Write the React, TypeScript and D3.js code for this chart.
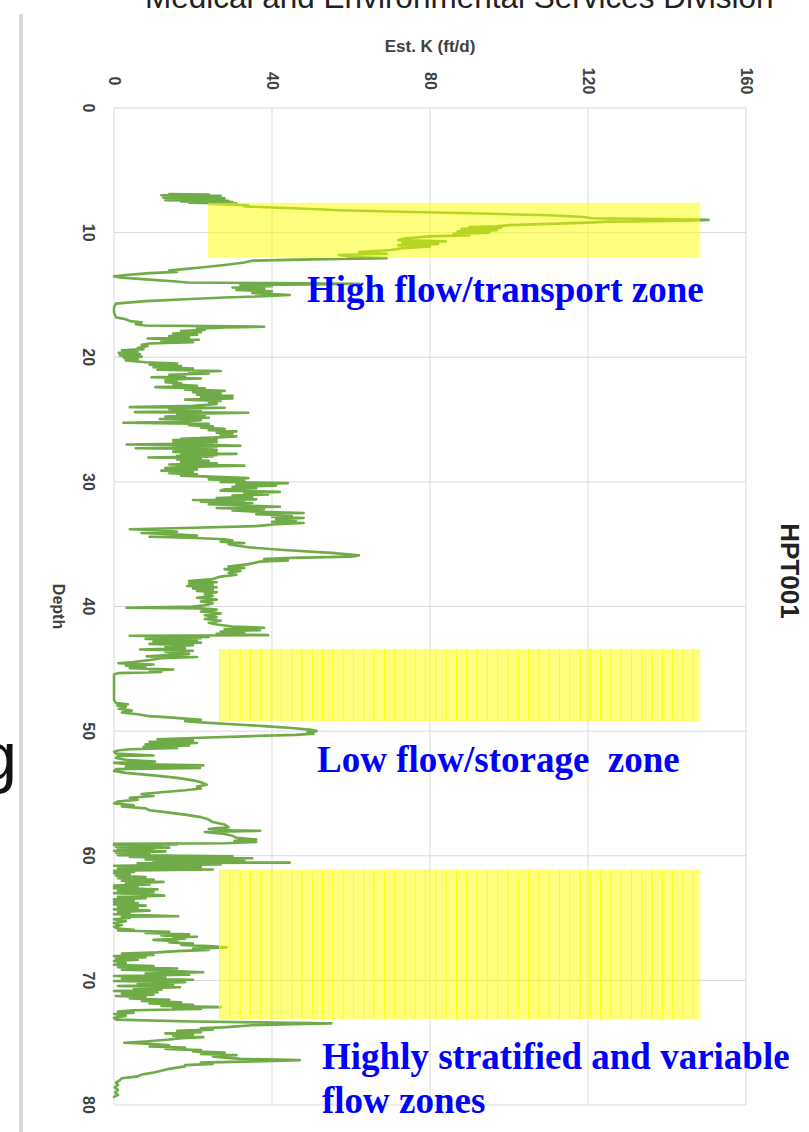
import React from 'react';
import * as d3 from 'd3';

// ---------- data ----------
const kTicks = [0, 40, 80, 120, 160];
const depthTicks = [0, 10, 20, 30, 40, 50, 60, 70, 80];
const kDomain: [number, number] = [0, 160];
const depthDomain: [number, number] = [0, 80];

// [depth (ft), Est. K (ft/d)]
const profileTop: [number, number][] = [
  [6.9,14],[6.95,24],[7.0,12],[7.05,27],[7.1,14],[7.15,22],[7.2,12.5],[7.25,28],[7.3,15],[7.35,25],[7.4,13],[7.45,29],[7.5,17],[7.55,30],[7.6,19],[7.65,31],[7.7,24],[7.8,34],[7.9,33],[8.0,42],[8.1,50],[8.2,57],[8.3,70],[8.45,90],[8.6,110],[8.75,119],[8.85,121],[8.92,138],[8.98,150.5],[9.05,145],[9.12,125],[9.2,120],[9.3,110],[9.4,100],[9.5,97],[9.55,90],[9.6,98],[9.7,88],[9.8,97],[9.9,87],[10.0,95],[10.1,86],[10.2,90],[10.3,80],[10.45,74],[10.6,72],[10.7,84],[10.8,73],[10.9,82],[11.0,72],[11.1,80],[11.25,73],[11.4,70],[11.55,62],[11.7,69],[11.8,57],[11.95,60],[12.05,69],[12.15,50],[12.25,35],[12.4,33],[12.6,28],[12.8,22],[12.95,17],[13.05,14],[13.15,16],[13.25,9],[13.4,3],[13.5,0],[13.6,1.5],[13.75,8],[13.9,15],[14.0,18.5],[14.05,40],[14.1,62],[14.15,50],[14.2,32],[14.3,40],[14.4,30],[14.5,38],[14.6,31],[14.7,40],[14.85,35],[15.0,44.5],[15.1,38],[15.2,28],[15.35,18],[15.5,8],[15.7,0.5],[16.0,0],[16.4,0],[16.8,0.5],[16.95,3],[17.1,4],[17.2,7],[17.35,5.5],[17.45,8],[17.5,24],[17.55,38],[17.6,28],[17.7,21],[17.8,23],[17.9,17],[18.0,22],[18.1,15],[18.2,21],[18.3,14],[18.4,19],[18.5,8.5],[18.6,21.5],[18.7,12],[18.8,20],[18.9,9],[19.0,7],[19.1,8.5],[19.25,6],[19.35,7.5],[19.45,2],[19.55,6],[19.65,1.2],[19.75,6.5],[19.85,1.5],[19.95,7],[20.05,2.5],[20.15,6],[20.25,3],
];
const profileUpperMid: [number, number][] = [
  [20.4,8],[20.5,16],[20.6,9],[20.7,17],[20.8,10],[20.9,20],[21.0,11],[21.1,27],[21.2,19],[21.3,24],[21.4,14],[21.5,18],[21.6,9.5],[21.7,22],[21.8,13],[21.9,16],[22.0,13],[22.1,17],[22.2,15],[22.3,21],[22.4,10.5],[22.5,23],[22.6,18],[22.7,28],[22.8,20],[22.9,27],[23.0,21],[23.1,30],[23.2,22],[23.3,30],[23.4,18],[23.5,27],[23.6,24],[23.75,26],[23.9,20],[24.0,4],[24.05,28],[24.15,14],[24.25,22],[24.35,16],[24.4,5.3],[24.45,34],[24.55,16],[24.65,23],[24.75,13],[24.85,24],[24.95,11.6],[25.05,22],[25.15,18],[25.25,2.4],[25.35,24],[25.45,19],[25.55,25],[25.65,22],[25.75,28],[25.85,24],[25.95,31],[26.05,26],[26.15,30],[26.25,27],[26.35,31],[26.45,25],[26.55,17],[26.6,26],[26.65,15],[26.7,25],[26.75,16],[26.8,26],[26.85,15],[26.9,25],[26.95,17],[27.0,3.2],[27.05,26],[27.1,32],[27.15,15],[27.2,26],[27.25,16],[27.3,5.5],[27.35,25],[27.4,15],[27.45,26],[27.5,16],[27.55,25],[27.6,15],[27.65,26],[27.7,18],[27.75,31],[27.8,17],[27.85,26],[27.9,16],[27.95,25],[28.0,15],[28.05,8.7],[28.1,22],[28.2,16],[28.3,24],[28.4,17],[28.5,26],[28.6,14],[28.7,33],[28.8,18],[28.9,13],[29.0,21],[29.1,12],[29.2,20],[29.3,14],[29.4,21],[29.5,17],[29.6,26],[29.7,34],[29.8,24],[29.9,33],[30.0,27],[30.1,44],[30.2,31],[30.3,41],[30.4,30],[30.5,36],[30.6,28],[30.7,27],[30.8,42],[30.9,33],[31.0,39],[31.1,30],[31.2,35],[31.3,26],[31.4,36],[31.45,20],[31.5,33],[31.6,22],[31.7,35],[31.8,24],[31.9,33],[32.0,42],[32.1,26],[32.2,38],[32.3,30],[32.4,37],[32.5,48],[32.6,36],[32.7,45],[32.8,40],[32.9,48],[33.0,41],[33.1,46],[33.2,40],[33.3,48],[33.4,41],[33.55,36],[33.7,18],[33.8,4],[33.9,13],[34.0,16],[34.1,7],[34.2,15],[34.3,21],[34.4,9],[34.5,21],[34.6,28],[34.7,30],[34.8,27],[34.9,33],[35.0,29],[35.1,31],[35.25,34],[35.45,42],[35.7,55],[35.9,62],[36.0,60],[36.1,45],[36.2,38],[36.3,44],[36.4,37],[36.6,34],[36.8,29],[36.9,33],[37.0,28],[37.15,32],[37.3,29],[37.45,31],[37.6,27],[37.8,25],[37.95,19],[38.05,26],[38.15,19],[38.25,25],[38.35,18.5],[38.45,26],[38.55,20],[38.65,25],[38.75,21],[38.85,26],[39.0,23],[39.15,25],[39.3,21],[39.45,26],[39.6,22],[39.75,25],[39.9,23],[40.0,20],[40.1,3.2],[40.15,22],[40.25,26],[40.4,22],[40.55,27],[40.7,23],[40.85,26],[41.0,23],[41.15,27],[41.3,24],[41.45,26],[41.6,30],[41.7,38],[41.8,28],[41.9,37],[42.0,27],[42.1,33],[42.2,26],[42.3,39],[42.35,4],[42.45,24],[42.5,9],[42.55,22],[42.6,8],[42.7,21],[42.8,10],[42.9,22],[43.0,9],[43.1,20],[43.2,13],[43.35,18],[43.45,6.6],[43.55,20],[43.65,13],[43.8,19],[43.9,14],[44.0,8.3],[44.05,21],[44.15,12],[44.3,9],[44.45,5],[44.55,1.1],[44.65,10],[44.75,3],[44.85,8],[44.95,4],[45.05,15],[45.15,9],[45.25,12],[45.35,1],[45.45,0],
];
const profileLowerMid: [number, number][] = [
  [46.0,0],[46.5,0],[47.0,0],[47.5,0],[47.75,0.5],[47.85,3.5],[47.95,0.8],[48.05,3],[48.2,1.2],[48.35,4.5],[48.5,2],[48.65,6],[48.8,9],[48.9,14],[49.0,18],[49.1,22],[49.2,18],[49.3,22],[49.45,30],[49.6,38],[49.75,45],[49.9,50],[50.0,51.3],[50.1,49],[50.2,50.5],[50.3,46],[50.4,35],[50.55,20],[50.65,11],[50.75,20],[50.85,9],[50.95,21],[51.05,8],[51.15,19],[51.25,7.5],[51.35,16],[51.45,4],[51.55,1],[51.65,0],[51.8,0.5],[51.95,10],[52.0,1],[52.15,0.5],[52.3,3],[52.45,10.4],[52.55,0],[52.65,4],[52.75,22.6],[52.85,3],[52.95,21.8],[53.05,0.5],[53.2,0],[53.35,3],[53.55,10],[53.75,16],[53.95,20],[54.1,22],[54.3,23.5],[54.45,21],[54.6,22],[54.75,18],[54.9,12],[55.05,7],[55.2,10],[55.35,4],[55.5,6],[55.65,1],[55.8,0],[55.95,5],[56.05,2],[56.2,8],[56.35,9],[56.5,13],[56.7,18],[56.9,22],[57.1,24],[57.3,25],[57.5,28],[57.7,29],[57.85,24],[57.95,30],[58.0,37],[58.1,23],[58.25,28],[58.4,30],[58.55,31],[58.7,36],[58.8,30.5],[58.9,36],[59.0,28],
];
const profileBottom: [number, number][] = [
  [59.05,0],[59.1,16],[59.15,0],[59.2,12],[59.3,0.5],[59.35,14],[59.45,1],[59.5,10],[59.6,0],[59.65,13],[59.75,0.5],[59.85,9],[59.95,1],[60.05,30],[60.1,4],[60.2,35],[60.3,8],[60.4,33],[60.5,10],[60.55,44.5],[60.6,6],[60.7,27],[60.8,0],[60.9,22],[61.0,1],[61.1,25],[61.2,0],[61.3,5],[61.4,0],[61.5,4],[61.6,0.5],[61.7,8],[61.8,1],[61.9,10],[62.0,2],[62.1,12.5],[62.2,3],[62.3,9],[62.4,0],[62.5,6],[62.6,0],[62.7,11],[62.8,1],[62.9,10],[63.0,0],[63.1,9],[63.2,12.7],[63.3,1],[63.4,8],[63.5,0],[63.6,5],[63.7,0],[63.8,6],[63.9,0],[64.0,8],[64.1,1],[64.2,6],[64.3,0],[64.4,9],[64.5,1],[64.6,4],[64.7,0],[64.85,16.3],[64.9,2],[65.0,4],[65.1,0],[65.25,3],[65.4,0],[65.55,2],[65.7,0],[65.85,1],[65.95,5],[66.0,1],[66.1,14],[66.2,8],[66.3,19],[66.4,12],[66.5,21],[66.55,15],[66.65,18],[66.75,10],[66.85,16],[66.95,14],[67.05,20],[67.15,17],[67.25,24],[67.35,28.5],[67.45,20],[67.55,24],[67.65,16],[67.75,11],[67.85,2],[67.95,10],[68.05,0],[68.15,8],[68.25,0.5],[68.35,6],[68.45,0],[68.6,3],[68.75,0],[68.85,10],[68.95,1],[69.05,16],[69.15,2],[69.25,15],[69.35,22.6],[69.45,8],[69.55,19],[69.65,0],[69.75,13],[69.85,2],[69.95,20],[70.05,0],[70.15,18],[70.25,6],[70.35,15],[70.45,1],[70.55,16.7],[70.65,5],[70.75,12],[70.85,0],[70.95,11],[71.05,2],[71.15,10],[71.25,0.5],[71.35,8],[71.45,4],[71.55,14],[71.65,7],[71.75,17],[71.85,9],[71.95,20],[72.05,12],[72.15,27],[72.2,15],[72.3,22],[72.4,5],[72.5,1],[72.6,5],[72.7,0],[72.85,3],[73.0,0],[73.15,0.5],[73.3,20],[73.45,55],[73.5,48],[73.6,35],[73.75,28.5],[73.85,22],[73.95,25],[74.05,16],[74.15,22],[74.25,13],[74.35,20],[74.45,15],[74.55,22.6],[74.65,17],[74.75,14],[74.9,8],[75.0,2.6],[75.1,10],[75.2,14],[75.3,9],[75.4,18],[75.5,13],[75.6,22],[75.7,20],[75.8,28],[75.9,22],[76.0,31],[76.1,25],[76.2,28],[76.3,32],[76.4,47],[76.5,35],[76.6,22],[76.7,25],[76.8,18],[76.9,18],[77.0,16],[77.1,14],[77.25,12],[77.4,10],[77.55,7],[77.7,6],[77.85,2],[78.0,1.5],[78.2,0.5],[78.4,1],[78.6,0.2],[78.8,1],[79.0,0.3],[79.2,1],[79.35,0],
];

// highlighted zones: K range and depth range
const zoneK0 = [23.8, 26.6, 26.6];
const zoneK1 = [148.4, 148.4, 148.4];
const zoneD0 = [7.6, 43.4, 61.1];
const zoneD1 = [12.0, 49.2, 73.1];
const zoneStriped = [false, true, true];

const zoneTexts = [
  ['High flow/transport zone'],
  ['Low flow/storage  zone'],
  ['Highly stratified and variable', 'flow zones'],
];

const chartTitle = 'HPT001';
const xTitle = 'Est. K (ft/d)';
const yTitle = 'Depth';
const headerText = 'Medical and Environmental Services Division';

// ---------- layout ----------
const W = 809;
const H = 1132;
const plotLeft = 114;
const plotRight = 746;
const plotTop = 108;
const plotBottom = 1105;
const labelPos = [
  { x: 307, y: [302] },
  { x: 317, y: [772] },
  { x: 322, y: [1069, 1113] },
];

export default function App() {
  const x = d3.scaleLinear().domain(kDomain).range([plotLeft, plotRight]);
  const y = d3.scaleLinear().domain(depthDomain).range([plotTop, plotBottom]);
  const profile = [...profileTop, ...profileUpperMid, ...profileLowerMid, ...profileBottom];
  const line = d3
    .line<[number, number]>()
    .x((d) => x(d[1]))
    .y((d) => y(d[0]));

  const axisFont = "'Liberation Sans', Arial, sans-serif";
  const serif = "'Liberation Serif', 'Times New Roman', serif";

  return (
    <svg
      width={W}
      height={H}
      viewBox={`0 0 ${W} ${H}`}
      style={{ position: 'absolute', left: 0, top: 0, background: '#ffffff' }}
    >
      <defs>
        <pattern
          id="stripes"
          patternUnits="userSpaceOnUse"
          width={10.3}
          height={20}
          patternTransform={`translate(${x(zoneK0[1])},0)`}
        >
          <rect width={10.3} height={20} fill="#ffff00" fillOpacity={0.5} />
          <rect x={0} width={1} height={20} fill="#ffff00" fillOpacity={0.9} />
        </pattern>
      </defs>

      {/* header text clipped at top */}
      <text x={145} y={8} fontFamily={axisFont} fontSize={31.5} fill="#222">
        {headerText}
      </text>
      {/* clipped letter at left */}
      <text x={17} y={780} fontFamily={axisFont} fontSize={68} fill="#111" textAnchor="end">
        g
      </text>
      {/* slide border */}
      <rect x={19} y={14} width={4} height={H - 14} fill="#d9d9d9" />

      {/* gridlines */}
      {depthTicks.map((d) => (
        <line key={'h' + d} x1={plotLeft} x2={plotRight} y1={y(d)} y2={y(d)} stroke="#d9d9d9" strokeWidth={1} />
      ))}
      {kTicks.map((k) => (
        <line key={'v' + k} x1={x(k)} x2={x(k)} y1={plotTop} y2={plotBottom} stroke="#d9d9d9" strokeWidth={1} />
      ))}

      {/* K tick labels */}
      {kTicks.map((k) => (
        <text
          key={'kt' + k}
          transform={`translate(${x(k)},81) rotate(90)`}
          textAnchor="middle"
          dominantBaseline="central"
          fontFamily={axisFont}
          fontWeight="bold"
          fontSize={16}
          fill="#404040"
        >
          {k}
        </text>
      ))}
      {/* depth tick labels */}
      {depthTicks.map((d) => (
        <text
          key={'dt' + d}
          transform={`translate(88,${y(d)}) rotate(90)`}
          textAnchor="middle"
          dominantBaseline="central"
          fontFamily={axisFont}
          fontWeight="bold"
          fontSize={16}
          fill="#404040"
        >
          {d}
        </text>
      ))}

      <text
        x={(plotLeft + plotRight) / 2}
        y={52}
        textAnchor="middle"
        fontFamily={axisFont}
        fontWeight="bold"
        fontSize={17}
        fill="#404040"
      >
        {xTitle}
      </text>
      <text
        transform={`translate(58,${y(40)}) rotate(90)`}
        textAnchor="middle"
        dominantBaseline="central"
        fontFamily={axisFont}
        fontWeight="bold"
        fontSize={16}
        fill="#404040"
      >
        {yTitle}
      </text>
      <text
        transform={`translate(790,571) rotate(90)`}
        textAnchor="middle"
        dominantBaseline="central"
        fontFamily={axisFont}
        fontWeight="bold"
        fontSize={26}
        fill="#222"
      >
        {chartTitle}
      </text>

      {/* data line */}
      <path
        d={line(profile) || ''}
        fill="none"
        stroke="#6fab46"
        strokeWidth={2.6}
        strokeLinejoin="round"
        strokeLinecap="round"
      />

      {/* highlighted zones */}
      {zoneK0.map((k0, i) => (
        <rect
          key={'z' + i}
          x={x(k0)}
          y={y(zoneD0[i])}
          width={x(zoneK1[i]) - x(k0)}
          height={y(zoneD1[i]) - y(zoneD0[i])}
          fill={zoneStriped[i] ? 'url(#stripes)' : '#ffff00'}
          fillOpacity={zoneStriped[i] ? 1 : 0.5}
        />
      ))}

      {/* zone labels */}
      {zoneTexts.map((lines, i) => (
        <g key={'zt' + i}>
          {lines.map((t, j) => (
            <text
              key={j}
              x={labelPos[i].x}
              y={labelPos[i].y[j]}
              fontFamily={serif}
              fontWeight="bold"
              fontSize={37}
              fill="#0000ff"
              style={{ whiteSpace: 'pre' }}
            >
              {t}
            </text>
          ))}
        </g>
      ))}
    </svg>
  );
}
